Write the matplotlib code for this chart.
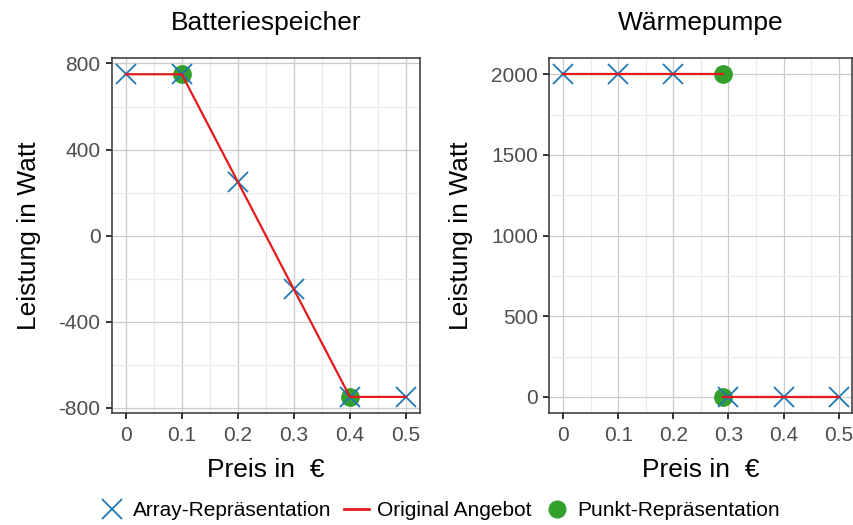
import numpy as np
import matplotlib.pyplot as plt
from matplotlib.lines import Line2D
from matplotlib.ticker import MultipleLocator

plt.rcParams['font.family'] = ['Liberation Sans', 'DejaVu Sans']

# Batteriespeicher
bat_array_x = [0, 0.1, 0.2, 0.3, 0.4, 0.5]
bat_array_y = [750, 750, 250, -250, -750, -750]
bat_line_x = [0, 0.1, 0.4, 0.5]
bat_line_y = [750, 750, -750, -750]
bat_punkt_x = [0.1, 0.4]
bat_punkt_y = [750, -750]

# Waermepumpe
wp_array_x = [0, 0.1, 0.2, 0.3, 0.4, 0.5]
wp_array_y = [2000, 2000, 2000, 0, 0, 0]
wp_line_x = [0, 0.29, np.nan, 0.29, 0.5]
wp_line_y = [2000, 2000, np.nan, 0, 0]
wp_punkt_x = [0.29, 0.29]
wp_punkt_y = [2000, 0]

titles = ['Batteriespeicher', 'Wärmepumpe']
x_ticks = [0, 0.1, 0.2, 0.3, 0.4, 0.5]
x_ticklabels = ['0', '0.1', '0.2', '0.3', '0.4', '0.5']
bat_yticks = [-800, -400, 0, 400, 800]
wp_yticks = [0, 500, 1000, 1500, 2000]

blue = '#1F78B4'
red = '#E31A1C'
green = '#33A02C'

fig = plt.figure(figsize=(8.54, 5.25), dpi=100)
ax1 = fig.add_axes([0.1308, 0.2133, 0.361, 0.676])
ax2 = fig.add_axes([0.6432, 0.2133, 0.355, 0.676])

panels = [
    (ax1, bat_array_x, bat_array_y, bat_line_x, bat_line_y, bat_punkt_x, bat_punkt_y,
     bat_yticks, (-825, 825), 200),
    (ax2, wp_array_x, wp_array_y, wp_line_x, wp_line_y, wp_punkt_x, wp_punkt_y,
     wp_yticks, (-100, 2100), 250),
]

for i, (ax, ax_x, ax_y, lx, ly, px, py, yt, ylim, yminor) in enumerate(panels):
    ax.plot(px, py, 'o', color=green, markersize=12.5, zorder=3)
    ax.plot(ax_x, ax_y, 'x', color=blue, markersize=15, markeredgewidth=1.3, zorder=4)
    ax.plot(lx, ly, '-', color=red, linewidth=1.6, zorder=5)

    ax.set_xlim(-0.025, 0.525)
    ax.set_ylim(*ylim)
    ax.set_xticks(x_ticks)
    ax.set_xticklabels(x_ticklabels)
    ax.set_yticks(yt)
    ax.set_yticklabels([str(v) for v in yt])
    ax.xaxis.set_minor_locator(MultipleLocator(0.05))
    ax.yaxis.set_minor_locator(MultipleLocator(yminor))

    ax.grid(which='major', color='#CCCCCC', linewidth=0.9, zorder=0)
    ax.grid(which='minor', color='#EBEBEB', linewidth=0.8, zorder=0)
    ax.set_axisbelow(True)
    ax.tick_params(which='major', length=4.5, width=1.4, color='#333333',
                   labelsize=15, labelcolor='#4D4D4D', pad=3.5)
    ax.tick_params(axis='x', which='major', pad=5)
    ax.tick_params(which='minor', length=0)
    for sp in ax.spines.values():
        sp.set_color('#333333')
        sp.set_linewidth(1.1)

    ax.set_title(titles[i], fontsize=19, pad=20)
    ax.set_xlabel('Preis in  €', fontsize=19, labelpad=9)
    ax.set_ylabel('Leistung in Watt', fontsize=19, labelpad=13)

handles = [
    Line2D([], [], linestyle='none', marker='x', color=blue, markersize=15, markeredgewidth=1.3),
    Line2D([], [], color=red, linewidth=2),
    Line2D([], [], linestyle='none', marker='o', color=green, markersize=12),
]
labels = ['Array-Repräsentation', 'Original Angebot', 'Punkt-Repräsentation']
fig.legend(handles, labels, loc='center', bbox_to_anchor=(0.515, 0.027), ncol=3,
           frameon=False, fontsize=15, handlelength=1.2, handletextpad=0.4,
           columnspacing=0.6)

plt.savefig('out.png', dpi=100)
